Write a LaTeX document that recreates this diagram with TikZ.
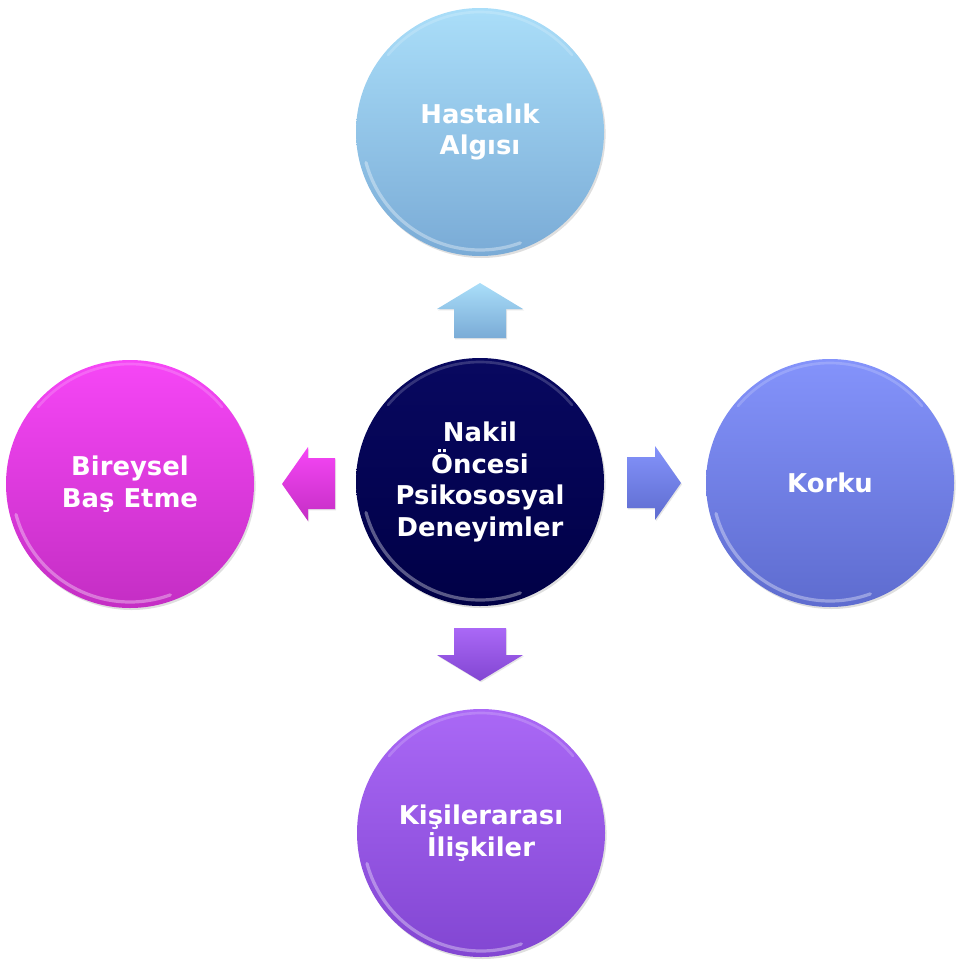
\documentclass[tikz,border=0pt]{standalone}
\usepackage{fontspec}
\setmainfont{DejaVu Sans}
\usetikzlibrary{shadows}
\definecolor{tA}{RGB}{170,222,249}
\definecolor{tB}{RGB}{122,171,214}
\definecolor{lA}{RGB}{246,70,246}
\definecolor{lB}{RGB}{196,46,196}
\definecolor{rA}{RGB}{132,147,251}
\definecolor{rB}{RGB}{94,108,207}
\definecolor{bA}{RGB}{170,104,246}
\definecolor{bB}{RGB}{130,70,210}
\definecolor{cA}{RGB}{8,8,96}
\definecolor{cB}{RGB}{0,0,70}
\begin{document}
\begin{tikzpicture}[x=0.75pt,y=-0.75pt]
\useasboundingbox (0,0) rectangle (960,967);
\tikzset{
  ball/.style={circle, minimum size=186pt, inner sep=0pt, text=white, align=center,
    font=\bfseries\fontsize{19.4}{23.6}\selectfont,
    drop shadow={shadow xshift=1.2pt, shadow yshift=-1.5pt, opacity=0.25}},
  barrow/.style={drop shadow={shadow xshift=0.8pt, shadow yshift=-1pt, opacity=0.2}},
  gloss/.style={white, opacity=0.35, line width=2.4pt, line cap=round},
  glosstop/.style={white, opacity=0.18, line width=2pt, line cap=round}
}
% circles
\node[ball, top color=tA, bottom color=tB] (top) at (480,132) {Hastalık\\Algısı};
\node[ball, top color=cA, bottom color=cB] (mid) at (480,482) {Nakil\\Öncesi\\Psikososyal\\Deneyimler};
\node[ball, top color=lA, bottom color=lB] (left) at (130,484) {Bireysel\\Baş Etme};
\node[ball, top color=rA, bottom color=rB] (right) at (830,483) {Korku};
\node[ball, top color=bA, bottom color=bB] (bot) at (481,833) {Kişilerarası\\İlişkiler};
% glossy rims
\foreach \n in {top,mid,left,right,bot}{
  \begin{scope}[shift={(\n.center)}]
    \draw[gloss] (195:88.5pt) arc[start angle=195, end angle=290, radius=88.5pt];
    \draw[glosstop] (40:90pt) arc[start angle=40, end angle=140, radius=90pt];
  \end{scope}
}
% block arrows
\path[barrow, top color=tA, bottom color=tB]
  (480,283) -- (523,309) -- (506,309) -- (506,338) -- (454,338) -- (454,309) -- (437,309) -- cycle;
\path[barrow, top color=bA, bottom color=bB]
  (480,681) -- (523,655) -- (506,655) -- (506,628) -- (454,628) -- (454,655) -- (437,655) -- cycle;
\path[barrow, top color=lA, bottom color=lB]
  (282,484) -- (308,447) -- (308,458) -- (335,458) -- (335,509) -- (308,509) -- (308,521) -- cycle;
\path[barrow, top color=rA, bottom color=rB]
  (681,483) -- (655,446) -- (655,457) -- (627,457) -- (627,508) -- (655,508) -- (655,520) -- cycle;
\end{tikzpicture}
\end{document}
